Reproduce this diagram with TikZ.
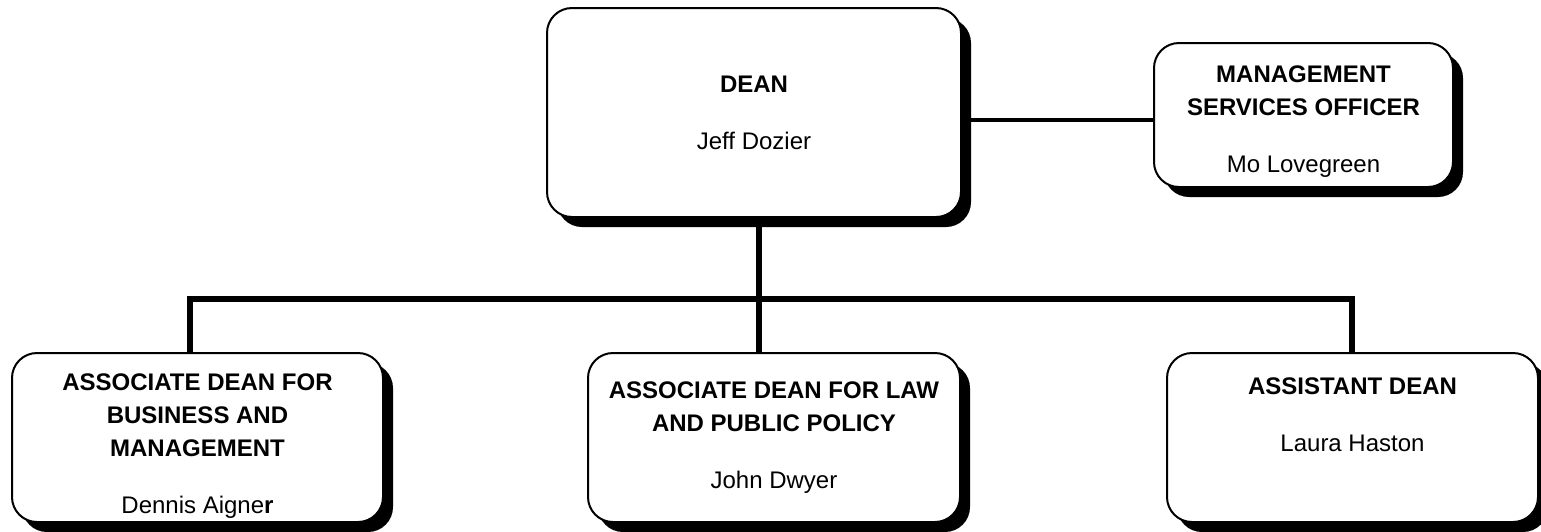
\documentclass[tikz,border=0pt]{standalone}
\usepackage{fontspec}
\setmainfont{Liberation Sans}
\usetikzlibrary{shadows}
\begin{document}
\begin{tikzpicture}[x=1pt,y=-1pt,
  post/.style={draw,line width=2pt,rounded corners=25pt,fill=white,
    drop shadow={shadow xshift=10pt,shadow yshift=-10pt,fill=black,opacity=1},
    align=center,inner sep=0pt,font=\fontsize{24}{33}\selectfont},
  trunk/.style={line width=6pt,line join=miter},
  side/.style={line width=4.5pt}]
  \useasboundingbox (0,0) rectangle (1541,531);

  % Dean
  \node[post,minimum width=414pt,minimum height=209pt] (Dean) at (754,112.5) {\textbf{DEAN}\\[24pt]Jeff Dozier};
  \node[post,minimum width=299pt,minimum height=144pt] (Officer) at (1303.5,115) {\rule{0pt}{29pt}\textbf{MANAGEMENT}\\\textbf{SERVICES OFFICER}\\[24pt]Mo Lovegreen};

  \draw[side] ([yshift=-5pt]Officer.west) to ([yshift=-5pt]Officer.west -| Dean.east);

  % Associates
  \node[post,minimum width=371pt,minimum height=169pt] (AssocBusiness) at (197.5,437.5) {\rule{0pt}{33pt}\textbf{ASSOCIATE DEAN FOR}\\\textbf{BUSINESS AND}\\\textbf{MANAGEMENT}\\[24pt]Dennis Aigne\textbf{r}};
  \node[post,minimum width=372pt,minimum height=169pt] (AssocLaw) at (774,437.5) {\textbf{ASSOCIATE DEAN FOR LAW}\\\textbf{AND PUBLIC POLICY}\\[24pt]John Dwyer};
  \node[post,minimum width=371pt,minimum height=169pt,text depth=46pt] (AssistDean) at (1352.5,437.5) {\textbf{ASSISTANT DEAN}\\[24pt]Laura Haston};

  \coordinate (Bus) at (759,299);
  \coordinate (BusLeft) at (190,299);
  \coordinate (BusRight) at (1352,299);

  \draw[trunk] (Dean.south -| Bus) to (Bus);
  \draw[trunk] (BusLeft |- AssocBusiness.north) -- (BusLeft) -- (BusRight) -- (BusRight |- AssistDean.north);
  \draw[trunk] (Bus) to (Bus |- AssocLaw.north);

\end{tikzpicture}
\end{document}
